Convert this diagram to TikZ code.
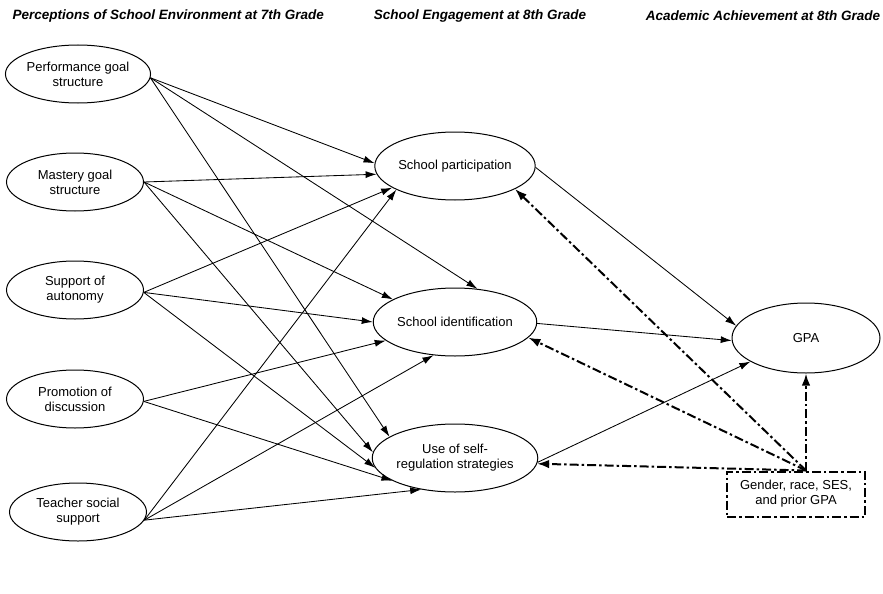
\documentclass[tikz,border=0pt]{standalone}
\usepackage{fontspec}
\setmainfont{Liberation Sans}
\usepackage{tikz}
\usetikzlibrary{arrows.meta,shapes.geometric}

\begin{document}
\begin{tikzpicture}[x=1pt,y=-1pt,
  every node/.style={font=\fontsize{13}{15}\selectfont},
  var/.style={draw,ellipse,line width=1pt,inner sep=0pt,align=center},
  lvar/.style={var,minimum width=137pt,minimum height=58pt},
  mvar/.style={var,minimum width=156pt,minimum height=68pt},
  head/.style={font=\fontsize{13.5}{15}\selectfont\bfseries\itshape},
  arr/.style={-{Latex[length=11pt,width=7pt]},line width=0.85pt},
  dashdot/.style={line width=2pt,dash pattern=on 9pt off 3pt on 2.5pt off 3pt},
  ctrl/.style={dashdot,-{Latex[length=12pt,width=8.5pt]}}]
\useasboundingbox (0,0) rectangle (883,594);
% column headings
\node[head,anchor=west] at (9,16) {Perceptions of School Environment at 7th Grade};
\node[head] at (480,16) {School Engagement at 8th Grade};
\node[head] at (763,16) {Academic Achievement at 8th Grade};
% 7th grade perceptions
\node[lvar] (pg) at (78,74) {Performance goal\\structure};
\node[lvar] (mg) at (75,182) {Mastery goal\\structure};
\node[lvar] (au) at (75,290) {Support of\\autonomy};
\node[lvar] (pd) at (75,399) {Promotion of\\discussion};
\node[lvar] (ts) at (78,512) {Teacher social\\support};
% 8th grade engagement
\node[mvar] (sp) at (455,166) {School participation};
\node[mvar] (si) at (455,322) {School identification};
\node[mvar] (sr) at (455,458) {Use of self-\\regulation strategies};
% achievement
\node[var,minimum width=148pt,minimum height=70pt] (gpa) at (806,338) {GPA};
\node[dashdot,draw,minimum width=138pt,minimum height=45pt,align=center] (cov) at (796,494)
  {Gender, race, SES,\\and prior GPA};
% paths
\foreach \s/\a/\t/\b in {pg/-3/sp/178, pg/-3/si/56, pg/-3/sr/162,
    mg/0/sp/186, mg/0/si/160, mg/0/sr/176,
    au/-2/sp/199, au/-2/si/180, au/-2/sr/187,
    pd/-2/si/195, pd/-2/sr/200,
    ts/-7/sp/202, ts/-7/si/237, ts/-7/sr/223,
    sp/-1/gpa/170, si/-1/gpa/182, sr/-3/gpa/203}
  \draw[arr] (\s.\a) -- (\t.\b);
\coordinate (cvtop) at ([xshift=10pt]cov.north);
\foreach \t/\b in {gpa/270, sp/-21, si/-12, sr/-4}
  \draw[ctrl] (cvtop) -- (\t.\b);
\end{tikzpicture}
\end{document}
